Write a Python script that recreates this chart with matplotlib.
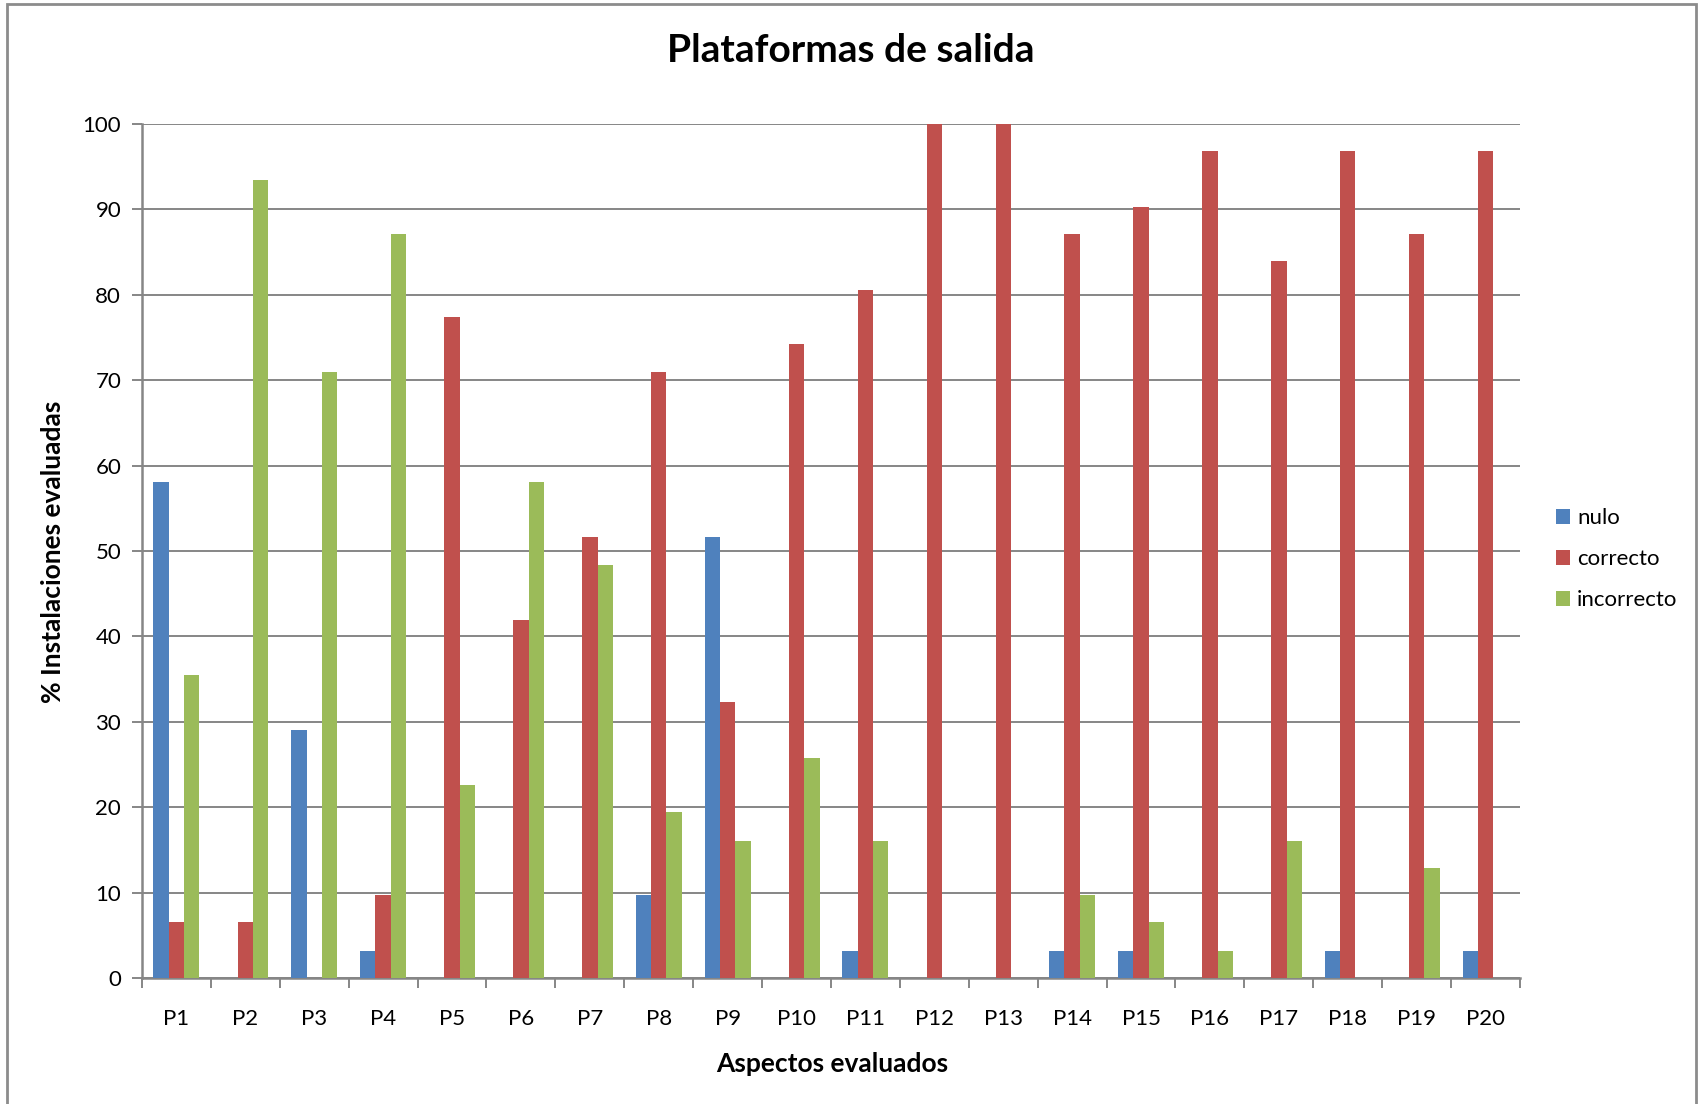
import matplotlib
matplotlib.use("Agg")
import matplotlib.pyplot as plt
from matplotlib.patches import Rectangle
import numpy as np

plt.rcParams['font.family'] = ['Lato', 'DejaVu Sans']

categorias = ["P%d" % i for i in range(1, 21)]
nulo = [58.1, 0, 29.0, 3.2, 0, 0, 0, 9.7, 51.6, 0, 3.2, 0, 0, 3.2, 3.2, 0, 0, 3.2, 0, 3.2]
correcto = [6.5, 6.5, 0, 9.7, 77.4, 41.9, 51.6, 71.0, 32.3, 74.2, 80.6, 100, 100, 87.1, 90.3, 96.8, 83.9, 96.8, 87.1, 96.8]
incorrecto = [35.5, 93.5, 71.0, 87.1, 22.6, 58.1, 48.4, 19.4, 16.1, 25.8, 16.1, 0, 0, 9.7, 6.5, 3.2, 16.1, 0, 12.9, 0]
series = ["nulo", "correcto", "incorrecto"]
cores = ["#4F81BD", "#C0504D", "#9BBB59"]

W, H = 1700, 1104
fig = plt.figure(figsize=(W / 100, H / 100), dpi=100)
ax = fig.add_axes([142 / W, 1 - 978 / H, (1520 - 142) / W, (978 - 124) / H])

x = np.arange(len(categorias))
largura = 1 / 4.5
for k, (nome, vals, cor) in enumerate(zip(series, [nulo, correcto, incorrecto], cores)):
    ax.bar(x + (k - 1) * largura, vals, largura, color=cor, label=nome, zorder=3)

cinza = "#868686"
ax.set_xlim(-0.5, len(categorias) - 0.5)
ax.set_ylim(0, 100)
ax.set_yticks(range(0, 101, 10))
ax.yaxis.grid(True, color=cinza, linewidth=1.4, zorder=0)
ax.set_xticks(x)
ax.set_xticklabels(categorias)
ax.set_xticks(np.arange(-0.5, len(categorias)), minor=True)
ax.tick_params(axis='x', which='major', length=0, pad=22, labelsize=16)
ax.tick_params(axis='x', which='minor', length=7, width=1.4, color=cinza)
ax.tick_params(axis='y', length=7, width=1.4, color=cinza, labelsize=16, pad=8)
for lado in ["top", "right"]:
    ax.spines[lado].set_visible(False)
for lado in ["left", "bottom"]:
    ax.spines[lado].set_color(cinza)
    ax.spines[lado].set_linewidth(1.8)

fig.text(851 / W, 1 - 50 / H, "Plataformas de salida", ha="center", va="center",
         fontsize=28, fontweight="bold")
fig.text(832 / W, 1 - 1064 / H, "Aspectos evaluados", ha="center", va="center",
         fontsize=19, fontweight="bold")
fig.text(53 / W, 1 - 552 / H, "% Instalaciones evaluadas", ha="center", va="center",
         rotation=90, fontsize=19, fontweight="bold")

ax.legend(loc="center left", bbox_to_anchor=(1536 / W, 1 - 559 / H), bbox_transform=fig.transFigure,
          frameon=False, fontsize=16, handlelength=0.65, handleheight=0.65, handletextpad=0.3,
          labelspacing=0.95)

fig.add_artist(Rectangle((7 / W, -0.05), (1696 - 7) / W, 1.05 - 4 / H, transform=fig.transFigure,
                         fill=False, edgecolor="#8C8C8C", linewidth=2))

fig.savefig("out.png", dpi=100)
